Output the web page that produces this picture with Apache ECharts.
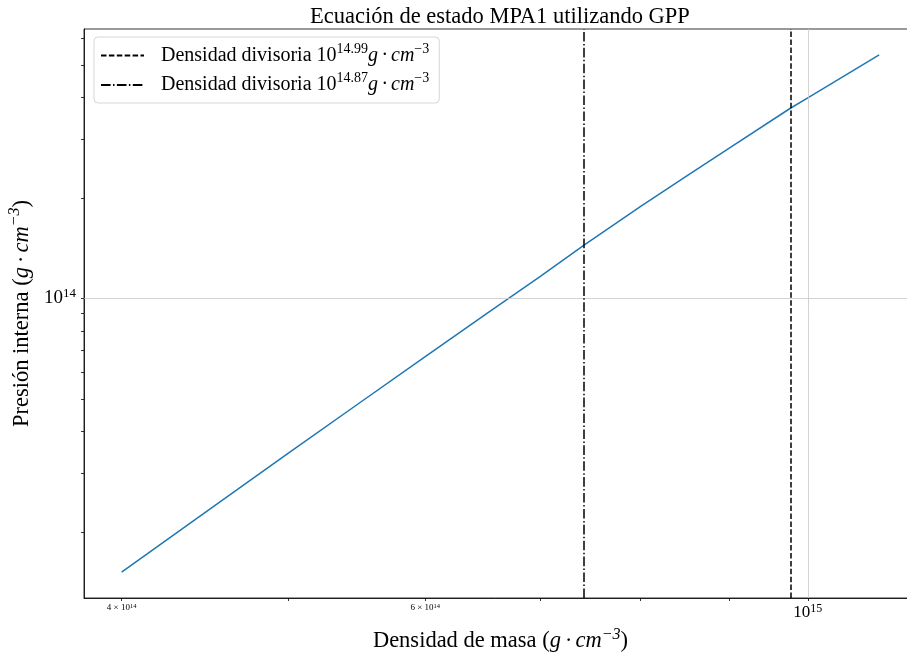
<!DOCTYPE html>
<html><head><meta charset="utf-8">
<script src="https://cdn.jsdelivr.net/npm/echarts@6/dist/echarts.min.js"></script>
<style>html,body{margin:0;padding:0;background:#fff}#c{width:907px;height:655px}</style>
</head><body><div id="c"></div>
<script>
// Density (g/cm^3) and pressure (g/cm^3)
const densidad = [4.0e14, 4.5e14, 5.0e14, 5.5e14, 6.0e14, 6.5e14, 7.0e14, 7.41e14, 8.0e14, 8.5e14, 9.0e14, 9.77e14, 1.0e15, 1.05e15, 1.10e15];
const presion  = [1.518e13, 2.342e13, 3.449e13, 4.883e13, 6.70e13, 8.94e13, 1.167e14, 1.439e14, 1.885e14, 2.320e14, 2.814e14, 3.707e14, 3.98e14, 4.634e14, 5.355e14];
const divisoriaExp = [14.99, 14.87];
const divisoriaDens = [9.772e14, 7.413e14];
const xTicks = [4e14, 5e14, 6e14, 7e14, 8e14, 9e14, 1e15];
const xTickLabels = [4e14, 6e14, 1e15];
const yTicks = [2e13, 3e13, 4e13, 5e13, 6e13, 7e13, 8e13, 9e13, 1e14, 2e14, 3e14, 4e14, 5e14, 6e14];
const yTickLabels = [1e14];
const gridX = [1e15];
const gridY = [1e14];

const SERIF = 'Liberation Serif';
const chart = echarts.init(document.getElementById('c'), null, {renderer: 'canvas'});

function xLabel(v) {
  const e = Math.log10(v);
  if (Math.abs(e - Math.round(e)) < 1e-6) return '{b|10}{bs|' + Math.round(e) + '}';
  const p = Math.floor(e + 1e-9);
  const m = Math.round(v / Math.pow(10, p));
  return '{s|' + m + ' × 10}{ss|' + p + '}';
}
function yLabel(v) {
  const e = Math.round(Math.log10(v));
  return '{b|10}{bs|' + e + '}';
}

const DOT = '\u2009·\u2009';
const legendRich = {
  n: {fontFamily: SERIF, fontSize: 20, color: '#000', lineHeight: 27, padding: [0, 0, 0, 12]},
  sup: {fontFamily: SERIF, fontSize: 14, color: '#000', verticalAlign: 'top'},
  it: {fontFamily: SERIF, fontSize: 20, fontStyle: 'italic', color: '#000', lineHeight: 27}
};
const nameRich = {
  n: {fontFamily: SERIF, fontSize: 22.5, color: '#000', lineHeight: 30},
  it: {fontFamily: SERIF, fontSize: 22.5, fontStyle: 'italic', color: '#000', lineHeight: 30},
  sup: {fontFamily: SERIF, fontSize: 16, fontStyle: 'italic', color: '#000', verticalAlign: 'top'}
};

const divNames = divisoriaExp.map(e => 'Densidad divisoria 10^' + e);

const option = {
  animation: false,
  backgroundColor: '#fff',
  title: {
    text: 'Ecuación de estado MPA1 utilizando GPP',
    left: 495, textAlign: 'center', top: 1,
    textStyle: {fontFamily: SERIF, fontSize: 22.5, fontWeight: 'normal', color: '#000'}
  },
  grid: {left: 84, right: -10, top: 29, bottom: 57, show: true, borderColor: '#000', borderWidth: 0.8,
         containLabel: false, outerBoundsMode: 'none'},
  legend: {
    orient: 'vertical', left: 94, top: 37,
    data: divNames,
    itemWidth: 43, itemHeight: 14, itemGap: 6,
    padding: [5, 10, 8, 6],
    borderColor: '#d6d6d6', borderWidth: 1, borderRadius: 4,
    backgroundColor: 'rgba(255,255,255,0.8)',
    itemStyle: {opacity: 0},
    formatter: function (name) {
      const e = name.split('^')[1];
      return '{n|Densidad divisoria 10}{sup|' + e + '}{it|g' + DOT + 'cm}{sup|−3}';
    },
    textStyle: {rich: legendRich}
  },
  xAxis: {
    type: 'log', logBase: 10,
    min: 3.804e14, max: 1.157e15,
    name: '{n|Densidad de masa (}{it|g' + DOT + 'cm}{sup|−3}{n|)}',
    nameLocation: 'middle', nameGap: 28,
    nameTextStyle: {rich: nameRich},
    axisLine: {show: true, lineStyle: {color: '#000', width: 0.8}},
    axisTick: {show: true, customValues: xTicks, length: 3, lineStyle: {color: '#000', width: 0.8}},
    axisLabel: {
      show: true, customValues: xTickLabels, margin: 5,
      formatter: xLabel,
      rich: {
        s: {fontFamily: SERIF, fontSize: 9, color: '#000'},
        ss: {fontFamily: SERIF, fontSize: 6.5, color: '#000', verticalAlign: 'top'},
        b: {fontFamily: SERIF, fontSize: 17, color: '#000', lineHeight: 20},
        bs: {fontFamily: SERIF, fontSize: 12, color: '#000', verticalAlign: 'top'}
      }
    },
    splitLine: {show: false}
  },
  yAxis: {
    type: 'log', logBase: 10,
    min: 1.270e13, max: 6.399e14,
    name: '{n|Presión interna (}{it|g' + DOT + 'cm}{sup|−3}{n|)}',
    nameLocation: 'middle', nameGap: 46, nameRotate: 90,
    nameTextStyle: {rich: nameRich},
    axisLine: {show: true, lineStyle: {color: '#000', width: 0.8}},
    axisTick: {show: true, customValues: yTicks, length: 3, lineStyle: {color: '#000', width: 0.8}},
    axisLabel: {
      show: true, customValues: yTickLabels, margin: 8,
      formatter: yLabel,
      rich: {
        b: {fontFamily: SERIF, fontSize: 19, color: '#000', lineHeight: 22},
        bs: {fontFamily: SERIF, fontSize: 13, color: '#000', verticalAlign: 'top'}
      }
    },
    splitLine: {show: false}
  },
  series: [
    {
      name: 'grid', type: 'line', data: [], symbol: 'none', z: 1,
      markLine: {
        silent: true, symbol: 'none', label: {show: false},
        lineStyle: {color: '#c8c8c8', width: 0.8, type: 'solid'},
        data: gridX.map(v => ({xAxis: v})).concat(gridY.map(v => ({yAxis: v})))
      }
    },
    {
      name: 'MPA1', type: 'line',
      data: densidad.map((d, i) => [d, presion[i]]),
      symbol: 'none', smooth: false,
      lineStyle: {color: '#1f77b4', width: 1.5},
      itemStyle: {color: '#1f77b4'},
      z: 3
    },
    {
      name: divNames[0], type: 'line', data: [], symbol: 'none',
      lineStyle: {color: '#000', width: 1.5, type: [5.5, 2.4]},
      itemStyle: {color: 'rgba(0,0,0,0)'},
      markLine: {
        silent: true, symbol: 'none', label: {show: false},
        lineStyle: {color: '#000', width: 1.5, type: [5.5, 2.4]},
        data: [{xAxis: divisoriaDens[0]}]
      }
    },
    {
      name: divNames[1], type: 'line', data: [], symbol: 'none',
      lineStyle: {color: '#000', width: 1.5, type: [9.6, 2.4, 1.5, 2.4]},
      itemStyle: {color: 'rgba(0,0,0,0)'},
      markLine: {
        silent: true, symbol: 'none', label: {show: false},
        lineStyle: {color: '#000', width: 1.5, type: [9.6, 2.4, 1.5, 2.4]},
        data: [{xAxis: divisoriaDens[1]}]
      }
    }
  ]
};
chart.setOption(option);
</script></body></html>
